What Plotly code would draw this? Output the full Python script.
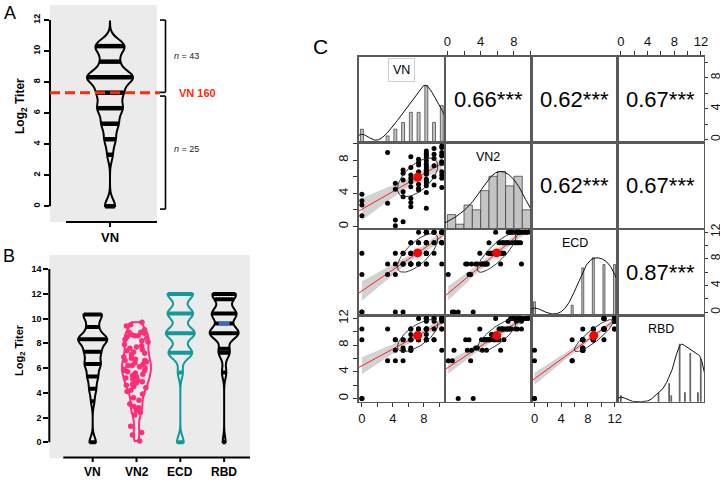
import numpy as np
import plotly.graph_objects as go

# ---------------- data (log2 titers, 68 samples) ----------------
vn = [0, 0, 0, 0,
      3.32, 3.32,
      4.32, 4.32, 4.32, 4.32,
      5.32, 5.32, 5.32, 5.32, 5.32, 5.32,
      6.32, 6.32, 6.32, 6.32, 6.32, 6.32, 6.32, 6.32, 6.32,
      7.32, 7.32, 7.32, 7.32, 7.32, 7.32, 7.32, 7.32, 7.32,
      8.32, 8.32, 8.32, 8.32, 8.32, 8.32, 8.32, 8.32, 8.32, 8.32, 8.32, 8.32, 8.32, 8.32, 8.32, 8.32, 8.32,
      9.32, 9.32, 9.32, 9.32, 9.32, 9.32,
      10.32, 10.32, 10.32, 10.32, 10.32, 10.32, 10.32, 10.32, 10.32, 10.32, 10.32]

vn2 = [3.9, 3.1, 1.3, 2.6,
       8.9, 2.8,
       0.8, 0.1, 4.5, 5.2,
       0.6, 6.4, 3.6, 5.6, 4.2, 6.8,
       8.4, 2.9, 3.4, 5.8, 6.2, 4.8, 7.1, 5.4, 2.4,
       6.1, 7.4, 4.6, 5.9, 6.6, 8.1, 4.4, 5.1, 7.7,
       9.1, 8.6, 6.5, 5.5, 7.2, 4.1, 6.9, 8.3, 5.7, 2.2, 6.3, 7.9, 4.9, 6.7, 5.3, 8.8, 7.5,
       9.4, 8.2, 6.0, 8.7, 5.0, 7.3,
       9.7, 9.5, 8.5, 7.8, 6.6, 5.8, 8.9, 6.2, 7.6, 8.6, 4.7]

ecd = [8.81, 0, 0, 5.64,
       7.23, 5.64,
       0, 5.64, 7.23, 8.81,
       0, 7.23, 7.23, 8.81, 7.23, 8.81,
       10.40, 7.23, 7.23, 8.81, 8.81, 7.23, 10.40, 8.81, 7.23,
       8.81, 10.40, 7.23, 8.81, 8.81, 10.40, 7.23, 8.81, 11.98,
       11.98, 11.98, 8.81, 8.81, 10.40, 7.23, 10.40, 11.98, 8.81, 7.23, 10.40, 11.98, 8.81, 10.40, 8.81, 10.40, 11.98,
       11.98, 10.40, 8.81, 11.98, 10.40, 11.98,
       11.98, 11.98, 11.98, 10.40, 10.40, 11.98, 11.98, 10.40, 11.98, 10.40, 7.23]

rbd = [10.40, 0, 0, 8.81,
       10.40, 5.64,
       7.23, 5.64, 8.81, 8.81,
       5.64, 7.23, 7.55, 8.81, 7.23, 8.81,
       10.40, 7.23, 7.55, 8.81, 8.81, 8.81, 10.40, 9.6, 7.23,
       8.81, 10.40, 8.81, 9.6, 10.40, 11.98, 8.81, 8.81, 10.40,
       11.98, 11.98, 10.40, 8.81, 10.40, 8.81, 10.40, 11.55, 8.81, 8.81, 10.40, 11.98, 8.81, 10.40, 9.6, 11.98, 10.40,
       11.98, 10.40, 8.81, 11.98, 8.81, 11.55,
       11.98, 11.98, 11.98, 11.98, 10.40, 11.98, 11.55, 10.40, 11.98, 11.98, 7.23]

var_names = ["VN", "VN2", "ECD", "RBD"]
corr_labels = {(0, 1): "0.66***", (0, 2): "0.62***", (0, 3): "0.67***",
               (1, 2): "0.62***", (1, 3): "0.67***", (2, 3): "0.87***"}
vn_cutoff_titer = 160
y_ticks_A = [0, 2, 4, 6, 8, 10, 12]
y_ticks_B = [0, 2, 4, 6, 8, 10, 12, 14]

# ---------------- helpers ----------------
W, H = 720, 480
def fx(p): return min(1.0, max(0.0, p / W))
def fy(p): return min(1.0, max(0.0, 1 - p / H))

FONT = "Liberation Sans, Arial, sans-serif"
PINK = "#ff2d7a"
TEAL = "#12999a"
GRAY_BG = "#ebebeb"

def kde_eval(vals, bw, xs):
    vals = np.asarray(vals, float)
    xs = np.asarray(xs, float)
    z = (xs[:, None] - vals[None, :]) / bw
    return np.exp(-0.5 * z ** 2).sum(1) / (len(vals) * bw * np.sqrt(2 * np.pi))

def level_bars(vals, bw, span, pos, width):
    d = span[1] - span[0]
    n = int(np.ceil(d / (bw / 3)))
    grid = np.linspace(span[0], span[1], n + 1)
    mx = kde_eval(vals, bw, grid).max()
    lv = np.unique(vals)
    hw = width / 2 * kde_eval(vals, bw, lv) / mx
    xs, ys = [], []
    for v, h in zip(lv, hw):
        xs += [pos - h * 0.97, pos + h * 0.97, None]
        ys += [v, v, None]
    return xs, ys, dict(zip(lv, hw))

def ann(**kw):
    kw.setdefault("showarrow", False)
    kw.setdefault("xanchor", "center")
    kw.setdefault("yanchor", "middle")
    return kw

fig = go.Figure()
shapes, annotations = [], []
layout = dict(width=W, height=H, autosize=False,
              margin=dict(l=0, r=0, t=0, b=0, pad=0, autoexpand=False),
              paper_bgcolor="white", plot_bgcolor="rgba(0,0,0,0)",
              showlegend=False, violinmode="overlay",
              font=dict(family=FONT, color="black"))

# ======================= Panel A =======================
A_y0, A_ppu = 206.3, 15.52   # pixel of value 0 and pixels per log2 unit
layout["xaxis"] = dict(domain=[fx(50), fx(157)], range=[-60, 47], visible=False, anchor="y")
layout["yaxis"] = dict(domain=[fy(222), fy(5)], range=[(A_y0 - 222) / A_ppu, (A_y0 - 5) / A_ppu],
                       anchor="x", tickvals=y_ticks_A, ticks="outside", ticklen=5, tickwidth=2,
                       tickcolor="black", tickangle=-90, showgrid=False, zeroline=False,
                       showline=False, tickfont=dict(size=9, family=FONT, weight="bold"))
shapes.append(dict(type="rect", xref="paper", yref="paper", x0=fx(50), x1=fx(157),
                   y0=fy(222), y1=fy(5), fillcolor=GRAY_BG, line=dict(width=0), layer="below"))
shapes.append(dict(type="line", xref="paper", yref="y", x0=fx(50), x1=fx(50),
                   y0=y_ticks_A[0], y1=y_ticks_A[-1], line=dict(color="black", width=2)))
A_span = [0, 11.9]
fig.add_trace(go.Violin(y=vn, x0=0, xaxis="x", yaxis="y", width=46, bandwidth=0.45,
                        spanmode="manual", span=A_span, points=False,
                        line=dict(color="black", width=2), fillcolor="rgba(0,0,0,0)",
                        box_visible=False, meanline_visible=False, hoverinfo="skip"))
bx, by, _ = level_bars(vn, 0.45, A_span, 0, 46)
fig.add_trace(go.Scatter(x=bx, y=by, mode="lines", xaxis="x", yaxis="y",
                         line=dict(color="black", width=4.5), hoverinfo="skip"))
thr = float(np.log2(vn_cutoff_titer))
n_hi = int(np.sum(np.asarray(vn) >= thr - 0.05))
n_lo = len(vn) - n_hi
shapes.append(dict(type="line", xref="paper", yref="y", x0=fx(50), x1=fx(160), y0=thr, y1=thr,
                   line=dict(color="#ff2a0a", width=3, dash="10px,5px")))
bxp, bxe = fx(165.5), fx(160)
for (ya, yb) in [(thr + 0.02, y_ticks_A[-1]), (-0.18, thr - 0.22)]:
    shapes.append(dict(type="line", xref="paper", yref="y", x0=bxp, x1=bxp, y0=ya, y1=yb,
                       line=dict(color="black", width=1.6)))
    for yy in (ya, yb):
        shapes.append(dict(type="line", xref="paper", yref="y", x0=bxe, x1=bxp, y0=yy, y1=yy,
                           line=dict(color="black", width=1.6)))
annotations.append(ann(xref="paper", yref="y", x=fx(172), y=(thr + y_ticks_A[-1]) / 2,
                       text="<i>n</i> = %d" % n_hi, xanchor="left",
                       font=dict(size=9, family=FONT, color="#222")))
annotations.append(ann(xref="paper", yref="y", x=fx(172), y=thr / 2,
                       text="<i>n</i> = %d" % n_lo, xanchor="left",
                       font=dict(size=9, family=FONT, color="#222")))
annotations.append(ann(xref="paper", yref="y", x=fx(177), y=thr,
                       text="VN %d" % vn_cutoff_titer, xanchor="left",
                       font=dict(size=11, family=FONT, color="#ff2a0a", weight="bold")))
shapes.append(dict(type="line", xref="paper", yref="paper", x0=fx(66), x1=fx(157),
                   y0=fy(222), y1=fy(222), line=dict(color="black", width=2)))
shapes.append(dict(type="line", xref="x", yref="paper", x0=0, x1=0, y0=fy(222), y1=fy(227),
                   line=dict(color="black", width=2)))
annotations.append(ann(xref="x", yref="paper", x=0, y=fy(237), text="<b>VN</b>",
                       font=dict(size=13, family=FONT)))
annotations.append(ann(xref="paper", yref="paper", x=fx(21), y=fy(106),
                       text="<b>Log<sub>2</sub> Titer</b>", textangle=-90,
                       font=dict(size=12, family=FONT)))
annotations.append(ann(xref="paper", yref="paper", x=fx(10), y=fy(13), text="A",
                       font=dict(size=18, family=FONT)))

# ======================= Panel B =======================
layout["xaxis2"] = dict(domain=[fx(49.3), fx(250)], range=[-0.99, 3.59], visible=False, anchor="y2")
layout["yaxis2"] = dict(domain=[fy(458.3), fy(255)], range=[-1.29, 15.13], anchor="x2",
                        tickvals=y_ticks_B, ticks="outside", ticklen=5, tickwidth=2,
                        tickcolor="black", showgrid=False, zeroline=False, showline=False,
                        tickfont=dict(size=9, family=FONT, weight="bold"))
shapes.append(dict(type="rect", xref="paper", yref="paper", x0=fx(49.3), x1=fx(250),
                   y0=fy(458.3), y1=fy(255), fillcolor=GRAY_BG, line=dict(width=0), layer="below"))
shapes.append(dict(type="line", xref="paper", yref="y2", x0=fx(49.3), x1=fx(49.3),
                   y0=y_ticks_B[0], y1=y_ticks_B[-1], line=dict(color="black", width=2)))
B_width = 0.66
b_specs = [(vn, "black", 0.45), (vn2, PINK, 0.6), (ecd, TEAL, 0.5), (rbd, "black", 0.5)]
for k, (vals, col, bw) in enumerate(b_specs):
    span = [min(vals), max(vals)]
    if k == 1:
        fig.add_trace(go.Violin(y=vals, x0=k, xaxis="x2", yaxis="y2", width=B_width, bandwidth=bw,
                                spanmode="hard", points="all", pointpos=0, jitter=1,
                                marker=dict(color=col, size=5.5),
                                line=dict(color=col, width=2), fillcolor="rgba(0,0,0,0)",
                                box_visible=False, meanline_visible=False, hoverinfo="skip"))
    else:
        fig.add_trace(go.Violin(y=vals, x0=k, xaxis="x2", yaxis="y2", width=B_width, bandwidth=bw,
                                spanmode="hard", points=False,
                                line=dict(color=col, width=2), fillcolor="rgba(0,0,0,0)",
                                box_visible=False, meanline_visible=False, hoverinfo="skip"))
        bx, by, hwd = level_bars(vals, bw, span, k, B_width)
        fig.add_trace(go.Scatter(x=bx, y=by, mode="lines", xaxis="x2", yaxis="y2",
                                 line=dict(color=col, width=4), hoverinfo="skip"))
        if k == 3:
            med = float(np.median(vals))
            h = hwd.get(med, 0.1) * 0.6
            fig.add_trace(go.Scatter(x=[k - h, k + h], y=[med, med], mode="lines",
                                     xaxis="x2", yaxis="y2",
                                     line=dict(color="#2d6fd0", width=3), hoverinfo="skip"))
shapes.append(dict(type="line", xref="paper", yref="paper", x0=fx(63.3), x1=fx(250),
                   y0=fy(457.5), y1=fy(457.5), line=dict(color="black", width=2)))
for k, name in enumerate(var_names):
    shapes.append(dict(type="line", xref="x2", yref="paper", x0=k, x1=k, y0=fy(457.5), y1=fy(462),
                       line=dict(color="black", width=2)))
    annotations.append(ann(xref="x2", yref="paper", x=k, y=fy(472), text="<b>%s</b>" % name,
                           font=dict(size=12, family=FONT)))
annotations.append(ann(xref="paper", yref="paper", x=fx(20), y=fy(350),
                       text="<b>Log<sub>2</sub> Titer</b>", textangle=-90,
                       font=dict(size=11, family=FONT)))
annotations.append(ann(xref="paper", yref="paper", x=fx(9), y=fy(256), text="B",
                       font=dict(size=18, family=FONT)))

# ======================= Panel C =======================
cx = [358.7, 445.0, 531.3, 617.7, 704.0]
cy = [56.7, 142.7, 229.0, 315.3, 401.7]
data = [np.asarray(v, float) for v in (vn, vn2, ecd, rbd)]
rng = []
for d in data:
    r = d.max() - d.min()
    rng.append([d.min() - 0.04 * r, d.max() + 0.04 * r])

def ticks_c(size=13, ticklen=4):
    return dict(tickmode="linear", tick0=0, dtick=4, ticks="outside", ticklen=ticklen, tickwidth=1,
                tickcolor="#333", showticklabels=True,
                tickfont=dict(size=size, family=FONT, color="#111"),
                minor=dict(tick0=0, dtick=2, ticks="outside", ticklen=ticklen, tickwidth=1,
                           tickcolor="#333", showgrid=False))

LINE_C = "#5a5a5a"
for i in range(4):
    for j in range(4):
        n = 3 + 4 * i + j
        xa = dict(domain=[fx(cx[j]), fx(cx[j + 1])], range=rng[j], anchor="y%d" % n,
                  showgrid=False, zeroline=False, showline=True, mirror=True,
                  linecolor=LINE_C, linewidth=1.3, ticks="", showticklabels=False)
        ya = dict(domain=[fy(cy[i + 1]), fy(cy[i])], range=(rng[i] if i != j else [0, 1.5]),
                  anchor="x%d" % n, showgrid=False, zeroline=False, showline=True, mirror=True,
                  linecolor=LINE_C, linewidth=1.3, ticks="", showticklabels=False)
        if i == 0 and j in (1, 3):
            xa.update(side="top", **ticks_c())
        if i == 3 and j in (0, 2):
            xa.update(side="bottom", **ticks_c())
        if j == 0 and i in (1, 3):
            ya.update(side="left", tickangle=-90, **ticks_c())
        if j == 3 and i in (0, 2):
            ya.update(side="right", tickangle=-90, ticklabelstandoff=-3, **ticks_c(12, 3))
        layout["xaxis%d" % n] = xa
        layout["yaxis%d" % n] = ya
        xr, yr = "x%d" % n, "y%d" % n
        if i > j:
            x, y = data[j], data[i]
            nn = len(x)
            b, a = np.polyfit(x, y, 1)
            xm, ym = x.mean(), y.mean()
            res = y - (a + b * x)
            s = np.sqrt((res ** 2).sum() / (nn - 2))
            sxx = ((x - xm) ** 2).sum()
            xs = np.linspace(x.min(), x.max(), 60)
            se = s * np.sqrt(1 / nn + (xs - xm) ** 2 / sxx)
            yh = a + b * xs
            tq = 1.997
            fig.add_trace(go.Scatter(x=np.r_[xs, xs[::-1]], y=np.r_[yh + tq * se, (yh - tq * se)[::-1]],
                                     mode="lines", fill="toself", fillcolor="rgba(195,195,195,0.75)",
                                     line=dict(width=0), xaxis=xr, yaxis=yr, hoverinfo="skip"))
            xl = np.array(rng[j])
            fig.add_trace(go.Scatter(x=xl, y=a + b * xl, mode="lines", line=dict(color="#ff2020", width=1),
                                     xaxis=xr, yaxis=yr, hoverinfo="skip"))
            fig.add_trace(go.Scatter(x=x, y=y, mode="markers", marker=dict(color="black", size=5),
                                     xaxis=xr, yaxis=yr, hoverinfo="skip"))
            r = np.corrcoef(x, y)[0, 1]
            th = np.sign(r) / np.sqrt(2)
            shape = np.diag([np.sqrt(1 + r), np.sqrt(1 - r)]) @ np.array([[th, th], [-th, th]])
            ang = np.linspace(0, 2 * np.pi, 61)
            e = np.c_[np.cos(ang), np.sin(ang)] @ shape
            fig.add_trace(go.Scatter(x=e[:, 0] * x.std(ddof=1) + xm, y=e[:, 1] * y.std(ddof=1) + ym,
                                     mode="lines", line=dict(color="#222", width=0.9),
                                     xaxis=xr, yaxis=yr, hoverinfo="skip"))
            fig.add_trace(go.Scatter(x=[xm], y=[ym], mode="markers", marker=dict(color="red", size=9),
                                     xaxis=xr, yaxis=yr, hoverinfo="skip"))
        elif i == j:
            d = data[i]
            if i == 1:
                cnt, edges = np.histogram(d, bins=np.arange(0, 11, 1))
                centers = (edges[:-1] + edges[1:]) / 2
                bw_bar = 1.0
            else:
                centers, cnt = np.unique(d, return_counts=True)
                bw_bar = {0: 0.38, 2: 0.3, 3: 0.12}[i]
            fig.add_trace(go.Bar(x=centers, y=cnt / cnt.max(), width=bw_bar,
                                 marker=dict(color="#c4c4c4", line=dict(color="#333", width=0.7)),
                                 xaxis=xr, yaxis=yr, hoverinfo="skip"))
            q75, q25 = np.percentile(d, [75, 25])
            bwd = 1.06 * min(d.std(ddof=1), (q75 - q25) / 1.34) * len(d) ** -0.2 * 1.2
            gx = np.linspace(d.min() - 3 * bwd, d.max() + 3 * bwd, 512)
            gd = kde_eval(d, bwd, gx)
            fig.add_trace(go.Scatter(x=gx, y=gd / gd.max(), mode="lines", line=dict(color="#111", width=1),
                                     xaxis=xr, yaxis=yr, hoverinfo="skip"))
            lab = ann(xref=xr + " domain", yref=yr + " domain", x=0.5, y=0.84, text=var_names[i],
                      font=dict(size=12.5, family=FONT))
            if i == 0:
                lab.update(bordercolor="#d0d0d0", borderwidth=1, borderpad=4)
            annotations.append(lab)
        else:
            # empty trace so that this subplot (frame and axis ticks) is created
            fig.add_trace(go.Scatter(x=[], y=[], mode="markers", xaxis=xr, yaxis=yr, hoverinfo="skip"))
            annotations.append(ann(xref=xr + " domain", yref=yr + " domain", x=0.5, y=0.5,
                                   text=corr_labels[(i, j)], font=dict(size=22, family=FONT)))

annotations.append(ann(xref="paper", yref="paper", x=fx(320), y=fy(46), text="C",
                       font=dict(size=21, family=FONT)))

layout["shapes"] = shapes
layout["annotations"] = annotations
fig.update_layout(**layout)
# the page's default 8 px body margin would shift the 720x480 figure; remove it
fig.write_html("out.html",
               config={"displayModeBar": False, "staticPlot": True},
               post_script="document.body.style.margin='0px';"
                           "document.body.style.overflow='hidden';")
